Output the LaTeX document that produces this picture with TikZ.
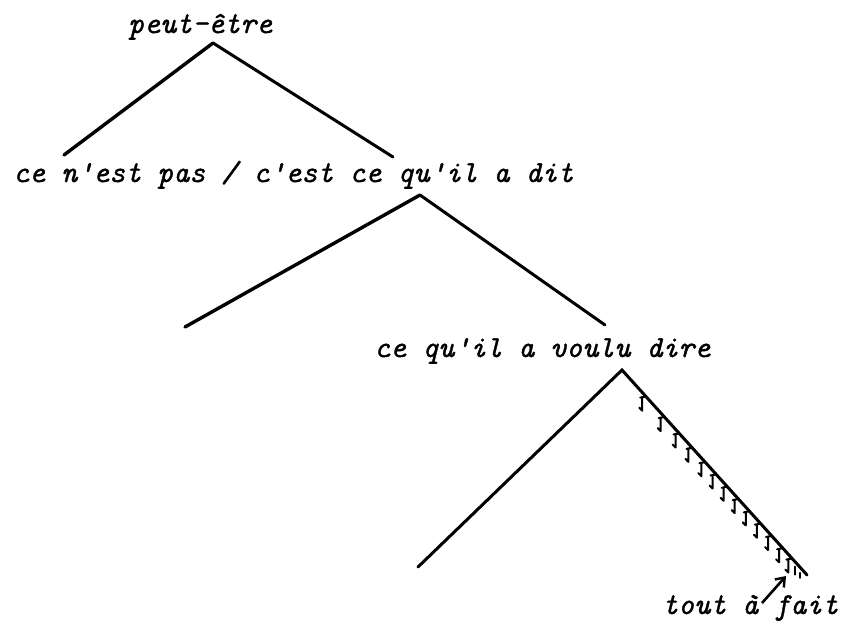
\documentclass[tikz,border=0pt]{standalone}
\usepackage{fontspec}
\newfontfamily\tw{Latin Modern Mono}[Ligatures=ResetAll, FakeBold=1.2]
\usetikzlibrary{arrows.meta,calc}
\begin{document}
\begin{tikzpicture}[x=1pt,y=-1pt,
  lbl/.style={inner sep=0pt, anchor=base west, font={\tw\itshape\fontsize{30.5}{36}\selectfont}},
  branch/.style={line width=3pt, line cap=round, line join=miter},
  hatch/.style={line width=2pt, line cap=round, line join=round},
  pointer/.style={line width=2.6pt, -{Straight Barb[length=8pt,width=12pt,line width=2.4pt]}}]
\useasboundingbox (0,0) rectangle (843,629);
% labels
\node[lbl] (t1) at (128,33) {peut-être};
\node[lbl] (t2) at (13,182) {ce n'est pas / c'est ce qu'il a dit};
\node[lbl] (t3) at (374,357) {ce qu'il a voulu dire};
\node[lbl] (t4) at (662,614) {tout à fait};
% tree points
\coordinate (a1) at (213,43);
\coordinate (l1) at (64,155);
\coordinate (r1) at (393,157);
\coordinate (a2) at (420,195);
\coordinate (l2) at (185,327);
\coordinate (r2) at (605,325);
\coordinate (a3) at (622,370);
\coordinate (l3) at (418,567);
\coordinate (r3) at (807,575);
% branches
\draw[branch, line width=3.4pt] (l1) -- (a1);
\draw[branch] (a1) -- (r1);
\draw[branch, line width=3.4pt] (l2) -- (a2);
\draw[branch] (a2) -- (r2);
\draw[branch] (l3) -- (a3) -- (r3);
% hatching below the right branch
\foreach \t in {0.12,0.22,0.30,0.37,0.44,0.50,0.56,0.62,0.68,0.74,0.80,0.86,0.91} {
  \draw[hatch] ($(a3)!\t!(r3)$) ++(1,2) -- ++(-5,1) ++(2,0) -- ++(0,13) -- ++(-3,-3);
}
\draw[hatch] ($(a3)!0.945!(r3)$) ++(-2,3) -- ++(0,8);
\draw[hatch] ($(a3)!0.975!(r3)$) ++(-2,3) -- ++(0,5);
% arrow
\coordinate (arrtail) at (762,603);
\coordinate (arrtip) at (786,576);
\draw[pointer] (arrtail) -- (arrtip);
\end{tikzpicture}
\end{document}
